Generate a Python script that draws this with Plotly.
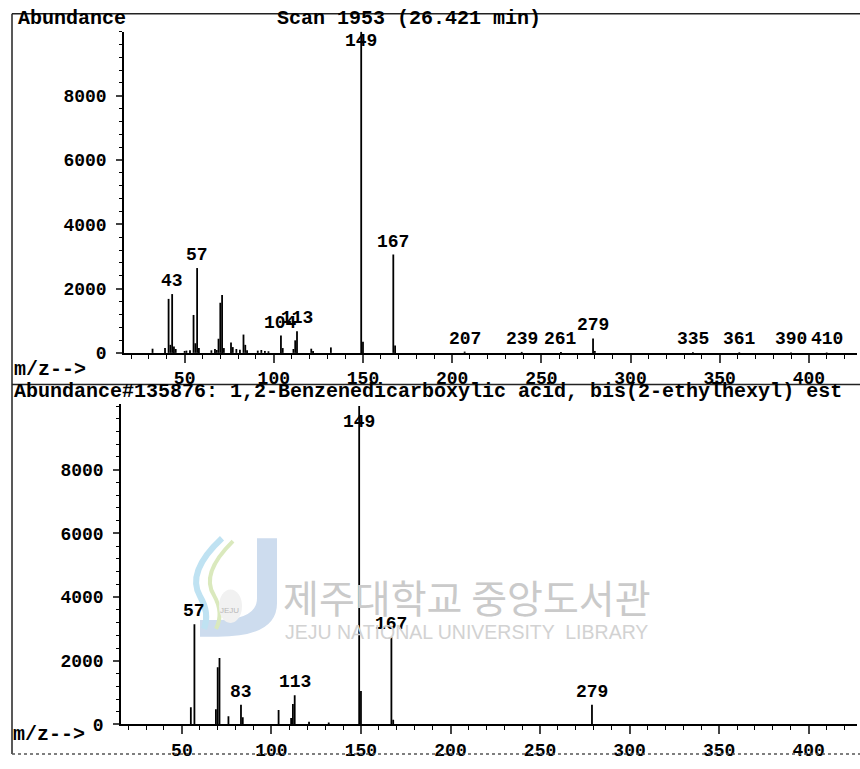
import plotly.graph_objects as go

W, H = 860, 769

# ---- Scan 1953 (26.421 min) : measured spectrum ----
scan_mz = [32, 39, 41, 42, 43, 44, 45, 50, 51, 53, 55, 56, 57, 58, 65, 67, 68, 69, 70, 71, 72,
           76, 77, 79, 81, 83, 84, 85, 91, 93, 95, 97, 104, 105, 111, 112, 113, 121, 122, 132,
           149, 150, 167, 168, 207, 239, 261, 279, 280, 335, 361, 390, 410]
scan_abund = [130, 150, 1680, 250, 1830, 200, 120, 60, 70, 80, 1180, 300, 2640, 150, 80, 120, 90, 440, 1560, 1800, 150,
              320, 180, 120, 100, 570, 250, 80, 70, 90, 60, 50, 540, 150, 120, 390, 670, 130, 60, 170,
              9990, 350, 3060, 230, 40, 30, 30, 450, 60, 20, 20, 15, 15]
scan_labels = [43, 57, 104, 113, 149, 167, 207, 239, 261, 279, 335, 361, 390, 410]

# ---- Library hit #135876 : reference spectrum ----
lib_mz = [55, 57, 69, 70, 71, 76, 83, 84, 104, 111, 112, 113, 121, 132, 149, 150, 167, 168, 279]
lib_abund = [540, 3150, 480, 1800, 2090, 260, 620, 230, 455, 200, 640, 920, 90, 60, 9999, 1050, 2750, 150, 620]
lib_labels = [57, 83, 113, 149, 167, 279]

y_ticks = [0, 2000, 4000, 6000, 8000]
x_ticks = [50, 100, 150, 200, 250, 300, 350, 400]

MONO = "Liberation Mono"


def px(x):
    return x / W


def py(y):
    return 1 - y / H


def sticks(mz, ab):
    xs, ys = [], []
    for m, a in zip(mz, ab):
        xs += [m, m, None]
        ys += [0, a, None]
    return xs, ys


fig = go.Figure()
for mz, ab, xa, ya in [(scan_mz, scan_abund, "x", "y"), (lib_mz, lib_abund, "x2", "y2")]:
    xs, ys = sticks(mz, ab)
    fig.add_trace(go.Scatter(x=xs, y=ys, mode="lines", xaxis=xa, yaxis=ya,
                             line=dict(color="black", width=1.8), hoverinfo="skip",
                             showlegend=False))

axis_font = dict(family=MONO, size=18, color="black", weight="bold")
common_x = dict(range=[16, 427], tickvals=x_ticks, ticks="outside", ticklen=8, tickwidth=1.5,
                showline=True, linecolor="black", linewidth=1.5, showgrid=False, zeroline=False,
                tickfont=axis_font, minor=dict(dtick=10, tick0=0, ticks="outside", ticklen=4,
                                               tickcolor="black", tickwidth=1.2))
common_y = dict(tickvals=y_ticks, ticks="outside", ticklen=6, tickwidth=1.5,
                showline=True, linecolor="black", linewidth=1.5, showgrid=False, zeroline=False,
                tickfont=axis_font, ticklabelstandoff=6,
                minor=dict(dtick=400, tick0=0, ticks="outside", ticklen=3,
                           tickcolor="black", tickwidth=1.2))

fig.update_layout(
    width=W, height=H, margin=dict(l=0, r=0, t=0, b=0),
    paper_bgcolor="white", plot_bgcolor="rgba(0,0,0,0)",
    xaxis=dict(common_x, domain=[px(124), px(857)], anchor="y"),
    yaxis=dict(common_y, domain=[py(358), py(32)], range=[0, 10000], anchor="x"),
    xaxis2=dict(common_x, domain=[px(121), px(857)], anchor="y2"),
    yaxis2=dict(common_y, domain=[py(735), py(410)], range=[0, 10060], anchor="x2"),
)

ann = []
label_font = dict(family=MONO, size=18, color="black", weight="bold")
# peak labels (m/z) above each labelled stick; the base peak label sits just under the top
for mz, ab, labels, xa, ya, cap in [(scan_mz, scan_abund, scan_labels, "x", "y", 9300),
                                    (lib_mz, lib_abund, lib_labels, "x2", "y2", 9100)]:
    lookup = dict(zip(mz, ab))
    for m in labels:
        ann.append(dict(x=m, y=min(lookup[m], cap), xref=xa, yref=ya, text=str(m),
                        showarrow=False, yanchor="middle", xanchor="center", yshift=13,
                        font=label_font))

head_font = dict(family=MONO, size=20, color="black", weight="bold")
for x, y, t in [(16, 19, "Abundance"),
                (275, 19, "Scan 1953 (26.421 min)"),
                (12, 375, "m/z-->"),
                (12, 397, "Abundance#135876: 1,2-Benzenedicarboxylic acid, bis(2-ethylhexyl) est"),
                (11, 745, "m/z-->")]:
    ann.append(dict(x=px(x), y=py(y), xref="paper", yref="paper", text=t, showarrow=False,
                    xanchor="left", yanchor="middle", font=head_font))

# library watermark
ann.append(dict(x=px(467), y=py(605), xref="paper", yref="paper", text="제주대학교 중앙도서관",
                showarrow=False, xanchor="center", yanchor="middle",
                font=dict(family="Noto Sans CJK KR", size=39, color="#cacaca")))
ann.append(dict(x=px(466), y=py(641), xref="paper", yref="paper",
                text="JEJU NATIONAL UNIVERSITY  LIBRARY", showarrow=False,
                xanchor="center", yanchor="middle",
                font=dict(family="Liberation Sans", size=19.5, color="#d2d2d2")))
ann.append(dict(x=px(230), y=py(619), xref="paper", yref="paper", text="JEJU",
                showarrow=False, xanchor="center", yanchor="middle",
                font=dict(family="Liberation Sans", size=8, color="#b8b8b8")))
fig.update_layout(annotations=ann)


def path(cmds):
    out = []
    for c in cmds:
        if isinstance(c, str):
            out.append(c)
        else:
            out.append(f"{px(c[0]):.5f},{py(c[1]):.5f}")
    return " ".join(out)


shapes = []
# watermark logo
shapes.append(dict(type="path", xref="paper", yref="paper", layer="below",
                   path=path(["M", (257, 546), "L", (277, 546), "L", (277, 612), "Q", (277, 646),
                              (218, 646), "L", (200, 646), "L", (200, 629), "L", (216, 629), "Q",
                              (257, 629), (257, 607), "Z"]),
                   fillcolor="#cddcee", line=dict(width=0)))
shapes.append(dict(type="path", xref="paper", yref="paper", layer="below",
                   path=path(["M", (222, 546), "Q", (186, 580), (200, 605), "Q", (210, 622), (204, 638)]),
                   line=dict(color="#bfe2f2", width=6)))
shapes.append(dict(type="path", xref="paper", yref="paper", layer="below",
                   path=path(["M", (233, 549), "Q", (200, 582), (214, 604), "Q", (224, 622), (216, 638)]),
                   line=dict(color="#dae9bd", width=4)))
shapes.append(dict(type="circle", xref="paper", yref="paper", layer="below",
                   x0=px(219), x1=px(242), y0=py(598), y1=py(632),
                   fillcolor="#f1f1f1", line=dict(width=0)))

# page frame: top edge, left edge, panel separator, bottom edge
frame = [((12, 14), (860, 14), "solid", "#222222"),
         ((12, 14), (12, 765), "solid", "#222222"),
         ((12, 390), (860, 390), "solid", "#222222"),
         ((12, 765), (860, 765), "dot", "#555555")]
for (x0, y0), (x1, y1), dash, col in frame:
    shapes.append(dict(type="line", xref="paper", yref="paper", x0=px(x0), y0=py(y0),
                       x1=px(x1), y1=py(y1), line=dict(color=col, width=1.5, dash=dash)))
fig.update_layout(shapes=shapes)

fig.write_html("out.html")
